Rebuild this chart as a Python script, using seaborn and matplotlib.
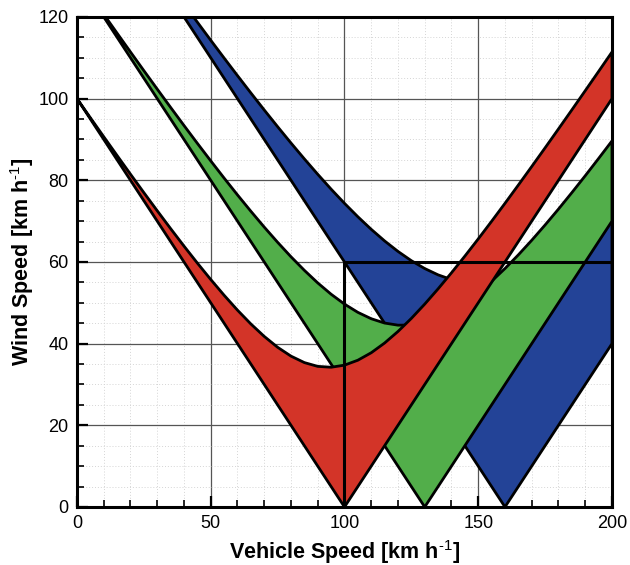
import numpy as np
import pandas as pd
import matplotlib
matplotlib.use("Agg")
import matplotlib.pyplot as plt
import seaborn as sns
from matplotlib.ticker import MultipleLocator

# ---- data ----
# upper (curved) boundaries of each band
red_x = [0, 5, 10, 15, 20, 25, 30, 35, 40, 45, 50, 55, 60, 65, 70, 75, 80, 85, 90, 95, 100,
         105, 110, 115, 120, 125, 130, 135, 140, 145, 150, 155, 160, 165, 170, 175, 180, 185, 190, 195, 200]
red_up = [100.0, 95.32, 90.67, 86.06, 81.49, 76.98, 72.54, 68.17, 63.89, 59.73, 55.71, 51.85, 48.20,
          44.82, 41.77, 39.11, 36.94, 35.36, 34.43, 34.22, 34.73, 35.94, 37.77, 40.15, 42.98, 46.18,
          49.68, 53.42, 57.35, 61.43, 65.64, 69.96, 74.36, 78.84, 83.37, 87.95, 92.58, 97.24, 101.94,
          106.66, 111.41]
green_x = [10, 15, 20, 25, 30, 35, 40, 45, 50, 55, 60, 65, 70, 75, 80, 85, 90, 95, 100,
           105, 110, 115, 120, 125, 130, 135, 140, 145, 150, 155, 160, 165, 170, 175, 180, 185, 190, 195, 200]
green_up = [120.65, 116.02, 111.42, 106.85, 102.33, 97.85, 93.42, 89.05, 84.76, 80.54, 76.42, 72.42,
            68.54, 64.82, 61.27, 57.95, 54.87, 52.10, 49.68, 47.66, 46.10, 45.04, 44.52, 44.55, 45.15,
            46.28, 47.91, 49.99, 52.46, 55.28, 58.39, 61.74, 65.31, 69.06, 72.95, 76.98, 81.11, 85.34, 89.64]
blue_x = [40, 45, 50, 55, 60, 65, 70, 75, 80, 85, 90, 95, 100,
          105, 110, 115, 120, 125, 130, 135, 140, 145, 150, 155, 160, 165, 170, 175, 180, 185, 190, 195, 200]
blue_up = [123.17, 118.72, 114.30, 109.94, 105.63, 101.39, 97.22, 93.13, 89.13, 85.24, 81.47, 77.83,
           74.36, 71.07, 67.99, 65.15, 62.58, 60.31, 58.39, 56.84, 55.69, 54.98, 54.72, 54.92, 55.57,
           56.65, 58.14, 60.02, 62.24, 64.77, 67.58, 70.63, 73.89]
# lower (straight V) boundaries of each band
red_low_x, red_low_y = [0, 100, 200], [100, 0, 100]
green_low_x, green_low_y = [10, 130, 200], [120, 0, 70]
blue_low_x, blue_low_y = [40, 160, 200], [120, 0, 40]
# reference lines
ref_x = [100, 100, 200]
ref_y = [0, 60, 60]

x_ticks = [0, 50, 100, 150, 200]
y_ticks = [0, 20, 40, 60, 80, 100, 120]

colors = {"red": "#d33428", "green": "#52ae4a", "blue": "#234397"}

sns.set_theme(style="white")
plt.rcParams["font.family"] = ["Liberation Sans", "DejaVu Sans"]
plt.rcParams["mathtext.fontset"] = "custom"
plt.rcParams["mathtext.rm"] = "Liberation Sans"
plt.rcParams["mathtext.bf"] = "Liberation Sans:bold"

fig = plt.figure(figsize=(6.3, 5.65), dpi=100)
ax = fig.add_axes([0.1222, 0.1027, 0.8492, 0.8673])

bands = [
    ("blue", blue_x, blue_up, blue_low_x, blue_low_y),
    ("green", green_x, green_up, green_low_x, green_low_y),
    ("red", red_x, red_up, red_low_x, red_low_y),
]
z = 3
for name, ux, uy, lx, ly in bands:
    px = list(ux) + list(lx)[::-1] + [ux[0]]
    py = list(uy) + list(ly)[::-1] + [uy[0]]
    ax.fill(px, py, color=colors[name], lw=0, zorder=z)
    df = pd.DataFrame({"x": px, "y": py})
    sns.lineplot(data=df, x="x", y="y", sort=False, estimator=None, color="black",
                 lw=2.0, ax=ax, zorder=z + 0.5, solid_joinstyle="round")
    z += 1

sns.lineplot(x=ref_x, y=ref_y, sort=False, estimator=None, color="black", lw=2.2, ax=ax, zorder=10)

ax.set_xlim(0, 200)
ax.set_ylim(0, 120)
ax.set_xticks(x_ticks)
ax.set_yticks(y_ticks)
ax.xaxis.set_minor_locator(MultipleLocator(10))
ax.yaxis.set_minor_locator(MultipleLocator(5))
ax.grid(True, which="major", color="#555555", lw=0.9, zorder=0)
ax.grid(True, which="minor", color="#d5d5d5", lw=0.7, ls=(0, (1, 2)), zorder=0)
ax.set_axisbelow(True)

ax.tick_params(which="both", direction="in", bottom=True, left=True, top=False, right=False,
               colors="black", labelsize=13)
ax.tick_params(which="major", length=8, width=1.6, pad=6)
ax.tick_params(which="minor", length=5, width=1.2)
for s in ax.spines.values():
    s.set_color("black")
    s.set_linewidth(2.2)
    s.set_zorder(20)

sup = r"$^{\mathrm{\text{-}1}}$"
ax.set_xlabel("Vehicle Speed [km h" + sup + "]", fontsize=15.5, fontweight="bold",
              color="black", labelpad=4)
ax.set_ylabel("Wind Speed [km h" + sup + "]", fontsize=15.5, fontweight="bold",
              color="black", labelpad=2)

fig.savefig("out.png", dpi=100)
